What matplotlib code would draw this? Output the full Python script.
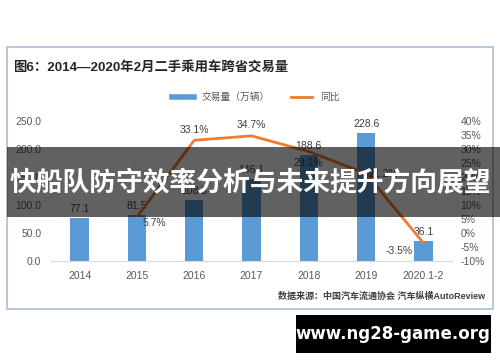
import matplotlib
matplotlib.use("Agg")
import matplotlib.pyplot as plt
from matplotlib.patches import Rectangle
from matplotlib.lines import Line2D

plt.rcParams['font.family'] = ['Liberation Sans', 'Noto Sans CJK SC', 'DejaVu Sans']

# ---------- data ----------
years = ['2014', '2015', '2016', '2017', '2018', '2019', '2020.1-2']
volume = [77.1, 81.5, 108.5, 146.1, 188.6, 228.6, 36.1]        # 万辆
growth = [None, 5.7, 33.1, 34.7, 29.1, 21.2, -3.5]             # %
title = '图6：2014—2020年2月二手乘用车跨省交易量'
source = '数据来源：中国汽车流通协会 汽车纵横AutoReview'
banner = '快船队防守效率分析与未来提升方向展望'
site = 'www.ng28-game.org'

BLUE = '#5b9bd5'
ORANGE = '#ed7d31'
GREY = '#595959'

W, H = 500, 362
fig = plt.figure(figsize=(W / 100, H / 100), dpi=100)
fig.patch.set_facecolor('white')

def fx(px):
    return px / W

def fy(py):
    return 1 - py / H

# box around the chart
fig.patches.append(Rectangle((fx(7), fy(309)), fx(486), (309 - 47) / H,
                             transform=fig.transFigure, fill=False,
                             edgecolor='#a9bdd6', linewidth=1.2))

fig.text(fx(13), fy(67), title, fontsize=9.6, fontweight='bold',
         color='#262626', va='center', ha='left')

# ---------- axes ----------
ax = fig.add_axes([fx(51), fy(261), fx(401), (261 - 121) / H])
x = list(range(len(years)))
ax.bar(x, volume, width=0.32, color=BLUE, zorder=2)
ax.set_ylim(0, 250)
ax.set_xlim(-0.5, len(years) - 0.5)
ax.set_yticks([0, 50, 100, 150, 200, 250])
ax.set_yticklabels([f'{v:.1f}' for v in [0, 50, 100, 150, 200, 250]])
ax.set_xticks(x)
ax.set_xticklabels(years)
for s in ['top', 'right', 'left']:
    ax.spines[s].set_visible(False)
ax.spines['bottom'].set_color('#d9d9d9')
ax.tick_params(axis='both', length=0, labelsize=7.5, colors=GREY)
ax.tick_params(axis='y', pad=7)
ax.tick_params(axis='x', pad=7)

for xi, v in zip(x, volume):
    ax.annotate(f'{v:.1f}', (xi, v), xytext=(0, 3), textcoords='offset points',
                ha='center', va='bottom', fontsize=7.5, color='#404040')

ax2 = ax.twinx()
gx = [xi for xi, g in zip(x, growth) if g is not None]
gy = [g for g in growth if g is not None]
ax2.plot(gx, gy, color=ORANGE, linewidth=2, zorder=3)
ax2.set_ylim(-10, 40)
ax2.set_yticks(range(-10, 45, 5))
ax2.set_yticklabels([f'{v}%' for v in range(-10, 45, 5)])
for s in ['top', 'right', 'left', 'bottom']:
    ax2.spines[s].set_visible(False)
ax2.tick_params(axis='y', length=0, labelsize=7.5, colors=GREY, pad=6)

offsets = {1: (4, -4, 'left', 'center'), 2: (0, 4, 'center', 'bottom'),
           3: (0, 4, 'center', 'bottom'), 4: (0, -5, 'center', 'top'),
           5: (2, 0, 'left', 'center'), 6: (-8, -6, 'right', 'center')}
for xi, g in zip(gx, gy):
    dx, dy, ha, va = offsets[xi]
    ax2.annotate(f'{g:.1f}%', (xi, g), xytext=(dx, dy), textcoords='offset points',
                 ha=ha, va=va, fontsize=7.5, color='#404040')

handles = [Line2D([], [], color=BLUE, linewidth=4),
           Line2D([], [], color=ORANGE, linewidth=2)]
fig.legend(handles, ['交易量（万辆）', '同比'], loc='center', ncol=2,
           bbox_to_anchor=(fx(256), fy(97)), frameon=False, fontsize=7,
           handlelength=2.2, columnspacing=2.2, labelcolor=GREY)

fig.text(fx(485), fy(296), source, fontsize=6.5, color='#404040',
         ha='right', va='center', fontweight='bold')

# ---------- overlays ----------
fig.patches.append(Rectangle((fx(7), fy(217)), fx(493), (217 - 147) / H,
                             transform=fig.transFigure, facecolor='black',
                             alpha=0.62, edgecolor='none', zorder=10))
fig.text(fx(250), fy(183), banner, fontsize=19.3, fontweight='bold', color='white',
         ha='center', va='center', zorder=11, family='Noto Sans CJK SC')

fig.patches.append(Rectangle((fx(296), fy(353)), fx(195), (353 - 315) / H,
                             transform=fig.transFigure, facecolor='black',
                             edgecolor='none', zorder=10))
fig.text(fx(393), fy(334), site, fontsize=12, fontweight='bold', color='white',
         ha='center', va='center', zorder=11, family='DejaVu Sans')

fig.savefig('out.png', dpi=100)
